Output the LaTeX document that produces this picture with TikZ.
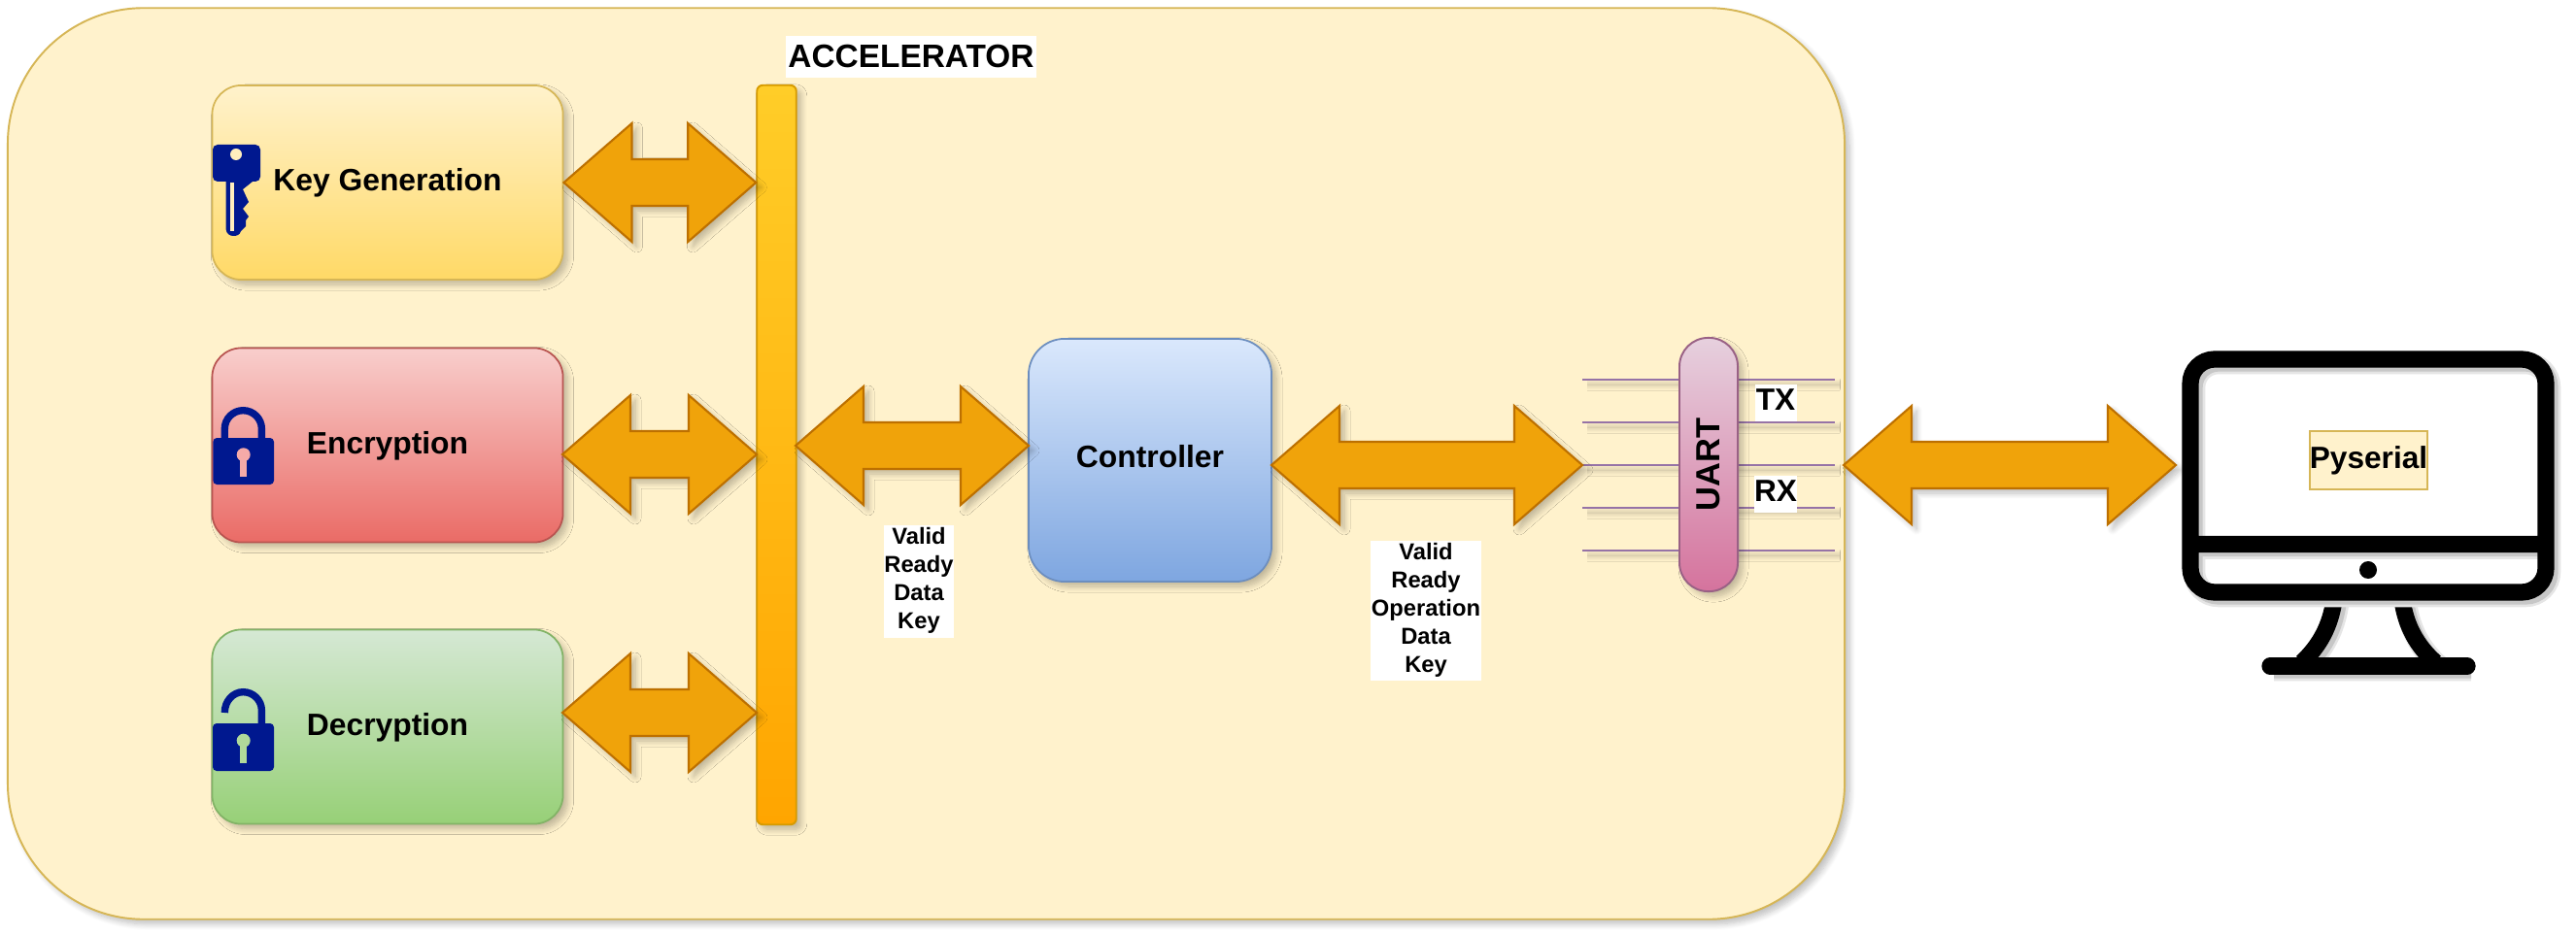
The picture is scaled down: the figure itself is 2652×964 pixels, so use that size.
\documentclass[tikz,border=0pt]{standalone}
\usepackage{fontspec}
\setmainfont{Liberation Sans}
\usepackage{tikz}
\usetikzlibrary{calc,shadows.blur}

\definecolor{iconblue}{HTML}{00188F}
\definecolor{outerfill}{HTML}{FFF2CC}
\definecolor{outerline}{HTML}{D6B656}
\definecolor{keybottom}{HTML}{FFD966}
\definecolor{enctop}{HTML}{F8CECC}
\definecolor{encbottom}{HTML}{EA6B66}
\definecolor{encline}{HTML}{B85450}
\definecolor{dectop}{HTML}{D5E8D4}
\definecolor{decbottom}{HTML}{97D077}
\definecolor{decline}{HTML}{82B366}
\definecolor{ctrltop}{HTML}{DAE8FC}
\definecolor{ctrlbottom}{HTML}{7EA6E0}
\definecolor{ctrlline}{HTML}{6C8EBF}
\definecolor{bustop}{HTML}{FFCD28}
\definecolor{busbottom}{HTML}{FFA500}
\definecolor{busline}{HTML}{D79B00}
\definecolor{arrowfill}{HTML}{F0A30A}
\definecolor{arrowline}{HTML}{BD7000}
\definecolor{uarttop}{HTML}{E6D0DE}
\definecolor{uartbottom}{HTML}{D5739D}
\definecolor{uartline}{HTML}{996185}
\definecolor{wireline}{HTML}{9673A6}
\definecolor{slotkey}{HTML}{FFEEBE}
\definecolor{holeenc}{HTML}{F5AAA8}
\definecolor{holedec}{HTML}{B0D99A}

\begin{document}
\begin{tikzpicture}[x=0.01cm,y=-0.01cm]
\tikzset{softshadow/.style = {blur shadow={shadow xshift=0.05cm,shadow yshift=-0.05cm,shadow blur radius=0.06cm,shadow blur steps=8,shadow opacity=25}}}
\tikzset{block/.style = {shape=rectangle,draw,line width=0.5pt,softshadow,font=\fontsize{9.05}{11}\selectfont\bfseries,minimum width=3.61cm,minimum height=2cm,rounded corners=0.3cm,text depth=0.06cm}}
\tikzset{sigbox/.style = {fill=white,inner sep=0pt,align=center,font=\fontsize{6.75}{8.22}\selectfont\bfseries}}
\tikzset{pinbox/.style = {fill=white,inner sep=0pt,minimum width=0.43cm,minimum height=0.38cm,text depth=0.06cm,font=\fontsize{9}{11}\selectfont\bfseries}}
\tikzset{wire/.style = {draw=wireline,line width=0.55pt,softshadow}}
\tikzset{bigarrow/.style = {draw=arrowline,fill=arrowfill,line width=0.6pt,softshadow,
  to path={-- ++(70,-61) -- ++(0,37) -- ($(\tikztotarget)+(-70,-24)$) -- ++(0,-37) -- (\tikztotarget) -- ++(-70,61) -- ++(0,-37) -- ($(\tikztostart)+(70,24)$) -- ++(0,37) -- cycle}}}
\tikzset{iconline/.style = {draw=black,line width=4.9pt,
  preaction={draw=black!10,line width=6.4pt,transform canvas={shift={(0.04cm,-0.04cm)}}},
  preaction={draw=black!22,line width=4.9pt,transform canvas={shift={(0.04cm,-0.04cm)}}}}}
\useasboundingbox (0,0) rectangle (2652,964);
\node[draw=outerline,fill=outerfill,line width=0.55pt,softshadow,minimum width=18.9cm,minimum height=9.38cm,rounded corners=1.4cm] (accel) at (953.5,477.5) {};
\node[sigbox,minimum width=2.57cm,minimum height=0.43cm,font=\fontsize{9.5}{11}\selectfont\bfseries] (acceltitle) at (938,58.5) {ACCELERATOR};
% the three engines
\node[block,draw=outerline,top color=outerfill,bottom color=keybottom] (key) at (399,188) {Key Generation};
\node[block,draw=encline,top color=enctop,bottom color=encbottom] (enc) at (399,458.5) {Encryption};
\node[block,draw=decline,top color=dectop,bottom color=decbottom] (dec) at (399,748.5) {Decryption};
\node[draw=busline,top color=bustop,bottom color=busbottom,line width=0.55pt,softshadow,minimum width=0.405cm,minimum height=7.61cm,rounded corners=0.06cm] (bus) at (799.5,468.5) {};
\node[block,draw=ctrlline,top color=ctrltop,bottom color=ctrlbottom,minimum width=2.5cm,minimum height=2.5cm,rounded corners=0.37cm,text depth=0.08cm] (ctrl) at (1184,474) {Controller};
% uart wires
\coordinate (wl1) at (1629,391); \coordinate (wr1) at (1889,391);
\coordinate (wl2) at (1629,435); \coordinate (wr2) at (1889,435);
\coordinate (wl3) at (1629,479); \coordinate (wr3) at (1889,479);
\coordinate (wl4) at (1629,523); \coordinate (wr4) at (1889,523);
\coordinate (wl5) at (1629,567); \coordinate (wr5) at (1889,567);
\draw[wire] (wl1) -- (wr1);
\draw[wire] (wl2) -- (wr2);
\draw[wire] (wl3) -- (wr3);
\draw[wire] (wl4) -- (wr4);
\draw[wire] (wl5) -- (wr5);
\node[draw=uartline,top color=uarttop,bottom color=uartbottom,line width=0.55pt,softshadow,minimum width=0.6cm,minimum height=2.61cm,rounded corners=0.295cm,inner sep=0pt,font=\fontsize{9.8}{11}\selectfont\bfseries] (uart) at (1759,478.5) {\rotatebox{90}{UART}\hspace{0.07cm}};
\node[pinbox] (tx) at (1828,415) {TX};
\node[pinbox] (rx) at (1828,509) {RX};
% big arrows
\coordinate (busk) at (key.east -| bus.west);
\coordinate (encout) at (579,468); \coordinate (busenc) at (779,468);
\coordinate (decout) at (579,734); \coordinate (busdec) at (779,734);
\coordinate (busout) at (819,459); \coordinate (ctrlin) at (1059,459);
\coordinate (ctrlout) at (1309,479);
\coordinate (uartout) at (1898,479); \coordinate (pcin) at (2240,479);
\draw[bigarrow] (key.east) to (busk);
\draw[bigarrow] (encout) to (busenc);
\draw[bigarrow] (decout) to (busdec);
\draw[bigarrow] (busout) to (ctrlin);
\draw[bigarrow] (ctrlout) to (wl3);
\draw[bigarrow] (uartout) to (pcin);
\node[sigbox,minimum width=0.72cm,minimum height=1.16cm,text depth=0.07cm] (sigctrl) at (946,599) {Valid\\Ready\\Data\\Key};
\node[sigbox,minimum width=1.14cm,minimum height=1.44cm,text depth=0.06cm] (siguart) at (1468,629) {Valid\\Ready\\Operation\\Data\\Key};
% key icon
\fill[iconblue,rounded corners=0.05cm] (219,149) rectangle (268,187);
\fill[iconblue] (232.6,180) -- (232.6,236) .. controls (233,241) and (237,243) .. (240,243) .. controls (244,243) and (247,242) .. (248,238) -- (253,233) -- (253,227) -- (256,223) -- (250,215) -- (256,208) -- (250,195) -- (260,187) -- (258,180) -- cycle;
\fill[slotkey] (243,159) circle [radius=6];
\fill[slotkey] (236.6,188) rectangle (241,238);
% lock icons
\draw[iconblue,line width=2.1pt] (231.3,455) -- (231.3,441.7) .. controls (231.3,431.2) and (239.9,422.7) .. (250.3,422.7) .. controls (260.8,422.7) and (269.4,431.2) .. (269.4,441.7) -- (269.4,455);
\fill[iconblue,rounded corners=0.04cm] (219.3,451) rectangle (282,499);
\fill[holeenc] (250.7,468.3) circle [radius=7];
\fill[holeenc] (247.3,468.3) rectangle (254,490.7);
\draw[iconblue,line width=2.1pt] (231.3,734) .. controls (231.3,722) and (239.9,712.7) .. (250.3,712.7) .. controls (260.8,712.7) and (269.4,721.2) .. (269.4,731.7) -- (269.4,750);
\fill[iconblue,rounded corners=0.04cm] (219,745) rectangle (282,794);
\fill[holedec] (250.7,762.7) circle [radius=7];
\fill[holedec] (247.3,762.7) rectangle (254,786);
% monitor
\draw[iconline] (2403,618) .. controls (2399,645) and (2388,665) .. (2370,682)
  (2473,618) .. controls (2477,645) and (2488,665) .. (2507,682)
  (2337,686) -- (2540,686);
\fill[white,rounded corners=0.25cm] (2255,370) rectangle (2621,610);
\draw[iconline,rounded corners=0.25cm] (2255,370) rectangle (2621,610) [sharp corners] (2255,560.5) -- (2621,560.5);
\draw[black,line width=4.9pt,line cap=round] (2337,686) -- (2540,686);
\fill[black] (2438,587) circle [radius=9];
\node[draw=outerline,fill=outerfill,line width=0.7pt,minimum width=1.21cm,minimum height=0.6cm,inner sep=0pt,font=\fontsize{9}{11}\selectfont\bfseries] (pyserial) at (2438.5,474) {Pyserial};
\end{tikzpicture}
\end{document}
